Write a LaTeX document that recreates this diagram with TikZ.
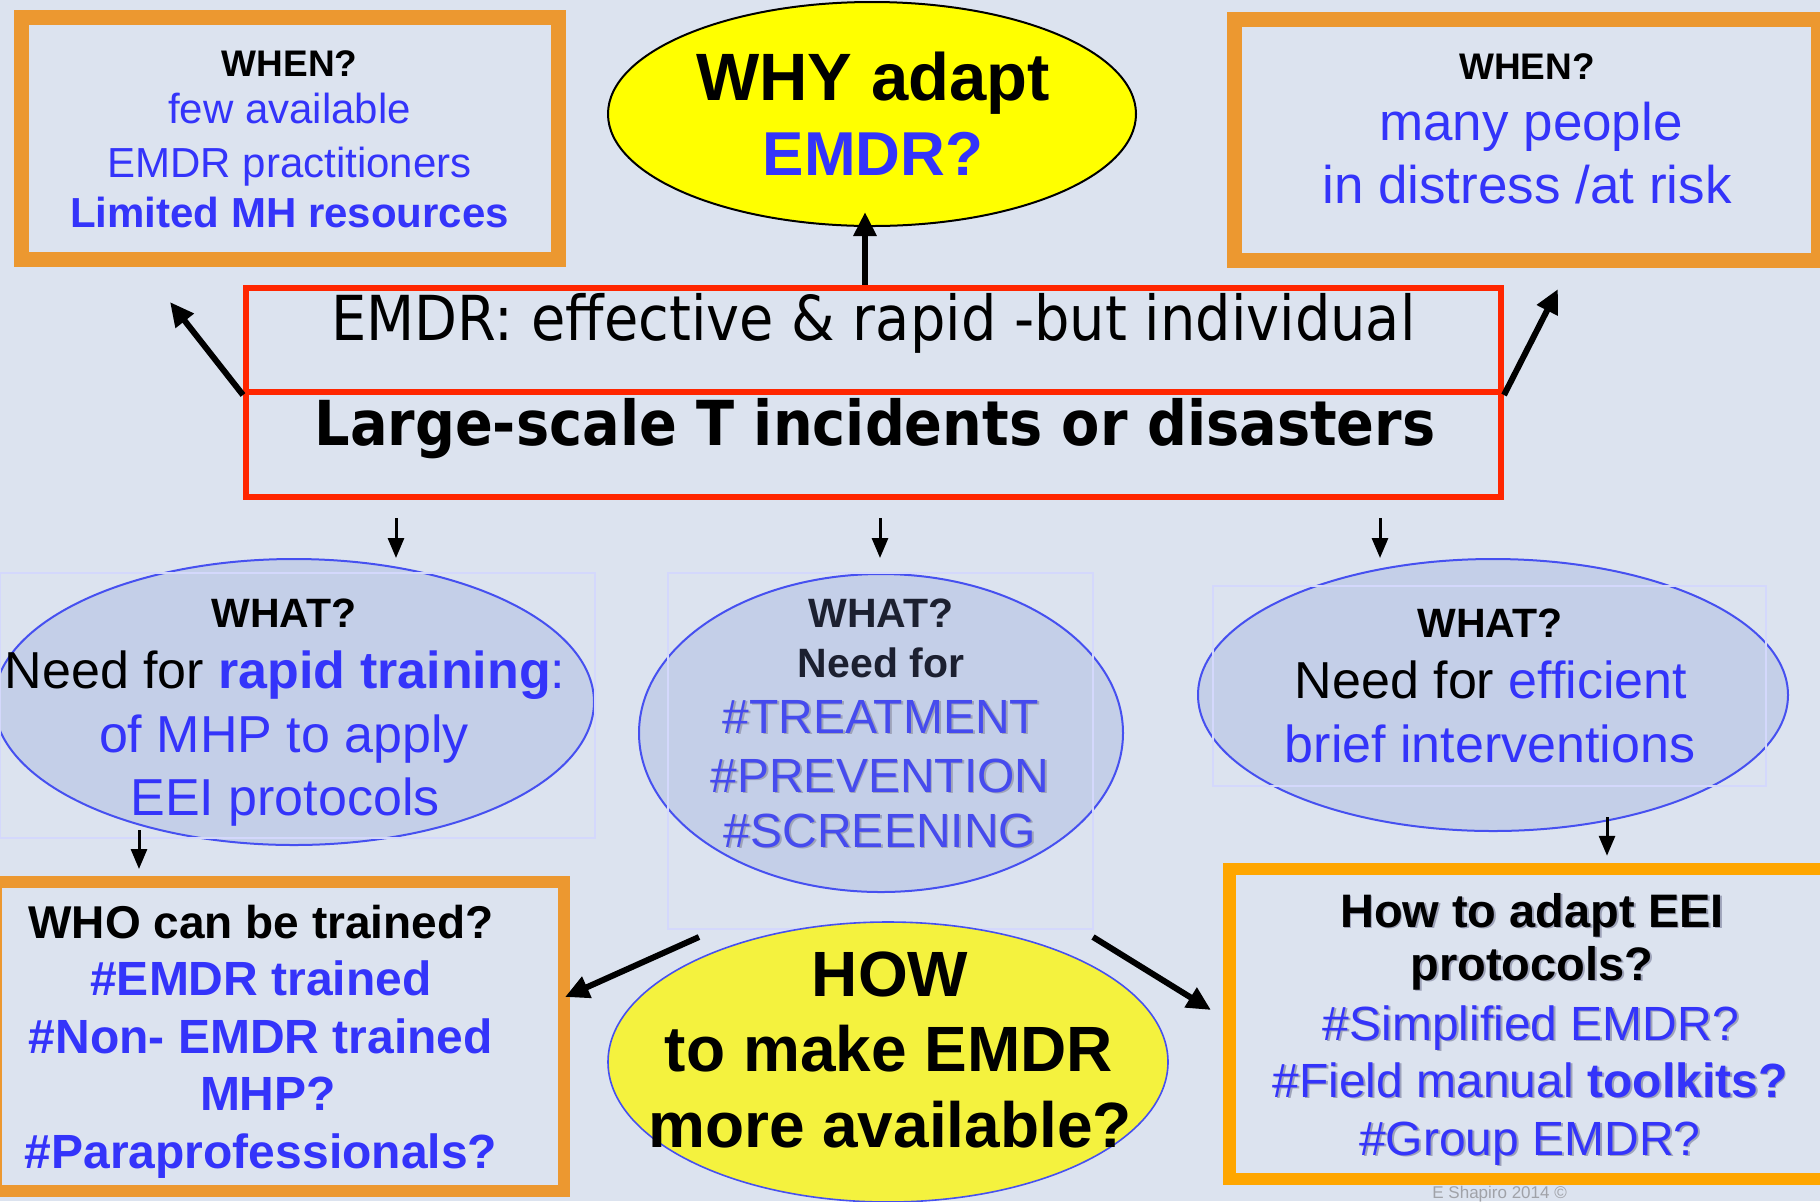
\documentclass[tikz,border=0pt]{standalone}
\usepackage{fontspec}
\setmainfont{Liberation Sans}
\newfontfamily\verd[FakeStretch=0.9]{DejaVu Sans}
\usetikzlibrary{shapes.geometric,arrows.meta}
\definecolor{bgc}{RGB}{220,227,239}
\definecolor{orA}{RGB}{236,152,48}
\definecolor{orB}{RGB}{255,166,0}
\definecolor{redb}{RGB}{255,38,0}
\definecolor{blT}{RGB}{52,52,250}
\definecolor{blT2}{RGB}{70,75,238}
\definecolor{ellf}{RGB}{196,207,232}
\definecolor{ellb}{RGB}{70,80,240}
\definecolor{yelA}{RGB}{255,255,0}
\definecolor{yelB}{RGB}{244,242,62}
\definecolor{faintc}{RGB}{212,216,252}
\definecolor{darkt}{RGB}{28,32,48}
\definecolor{shc}{RGB}{158,163,185}
\definecolor{footc}{RGB}{160,162,168}
\newcommand\fsz[1]{\fontsize{#1pt}{#1pt}\selectfont}
\newcommand\shd[1]{\makebox[0pt][l]{\kern0.9pt\raisebox{-0.9pt}{\textcolor{shc}{#1}}}#1}
\begin{document}
\begin{tikzpicture}[x=0.5pt,y=-0.5pt,
  obox/.style={draw=orA, line width=7.5pt, inner sep=0pt, fill=none},
  rbox/.style={draw=redb, line width=3pt, inner sep=0pt},
  ell/.style={ellipse, inner sep=0pt},
  wellipse/.style={ellipse, inner sep=0pt, fill=ellf, draw=ellb, line width=1pt},
  faint/.style={draw=faintc, line width=1pt},
  tx/.style={anchor=base, inner sep=0pt},
  barr/.style={line width=3pt, -{Triangle[length=12pt,width=11pt]}},
  sarr/.style={line width=1.5pt, -{Triangle[length=10pt,width=8pt]}}
]
\fill[bgc] (0,0) rectangle (1820,1201);
\useasboundingbox (0,0) rectangle (1820,1201);

% shapes
\node[obox, minimum width=268.5pt, minimum height=121pt] (when1) at (289.5,138) {};
\node[obox, minimum width=292pt, minimum height=120.5pt] (when2) at (1526.5,139.5) {};
\node[ell, fill=yelA, draw=black, line width=1pt, minimum width=264pt, minimum height=112pt] (why) at (872,114) {};
\node[rbox, minimum width=627.5pt, minimum height=52pt] (red1) at (873.5,340) {};
\node[rbox, minimum width=627.5pt, minimum height=52.5pt] (red2) at (873.5,444.5) {};
\node[wellipse, minimum width=300pt, minimum height=143pt] (what1) at (294,702) {};
\node[wellipse, minimum width=242pt, minimum height=159pt] (what2) at (881,733) {};
\node[wellipse, minimum width=295pt, minimum height=136pt] (what3) at (1493,695) {};
\draw[faint] (0,573) rectangle (595,838);
\draw[faint] (668,573) rectangle (1093,929);
\draw[faint] (1213,586) rectangle (1766,786);
\node[obox, line width=6pt, minimum width=283.75pt, minimum height=154.5pt] (who) at (279.75,1036.5) {};
\node[ell, fill=yelB, draw=ellb, line width=0.8pt, minimum width=280pt, minimum height=140pt] (how) at (888,1062) {};
\node[obox, draw=orB, line width=6.25pt, minimum width=298.25pt, minimum height=155pt] (adapt) at (1527.75,1024) {};

% texts: top-left WHEN
\node[tx, font=\fsz{18.5}\bfseries] (w1a) at (289.5,76) {WHEN?};
\node[tx, font=\fsz{21}, text=blT] (w1b) at (289.5,123) {few available};
\node[tx, font=\fsz{21}, text=blT] (w1c) at (289.5,177) {EMDR practitioners};
\node[tx, font=\fsz{21}\bfseries, text=blT] (w1d) at (289.5,227) {Limited MH resources};
% top-right WHEN
\node[tx, font=\fsz{18.5}\bfseries] (w2a) at (1527,79) {WHEN?};
\node[tx, font=\fsz{26.5}, text=blT] (w2b) at (1531,140) {many people};
\node[tx, font=\fsz{26.5}, text=blT] (w2c) at (1527,203) {in distress /at risk};
% WHY
\node[tx, font=\fsz{33.5}\bfseries] (y1) at (873,100) {WHY adapt};
\node[tx, font=\fsz{31}\bfseries, text=blT] (y2) at (873,175) {EMDR?};
% red boxes
\node[tx, font=\verd\fsz{31}] (r1) at (873.5,340) {EMDR: effective \& rapid -but individual};
\node[tx, font=\verd\bfseries\fsz{31}] (r2) at (875,445) {Large-scale T incidents or disasters};
% WHAT 1
\node[tx, font=\fsz{20.5}\bfseries] (a1) at (284,627) {WHAT?};
\node[tx, font=\fsz{26}] (a2) at (285,688) {Need for {\color{blT}\textbf{rapid training}:}};
\node[tx, font=\fsz{26}, text=blT] (a3) at (284,752) {of MHP to apply};
\node[tx, font=\fsz{26}, text=blT] (a4) at (285,815) {EEI protocols};
% WHAT 2
\node[tx, font=\fsz{20.5}\bfseries, text=darkt] (b1) at (881,627) {WHAT?};
\node[tx, font=\fsz{20.5}\bfseries, text=darkt] (b2) at (881,677) {Need for};
\node[tx, font=\fsz{24}, text=blT2] (b3) at (881,733) {\shd{\#TREATMENT}};
\node[tx, font=\fsz{24}, text=blT2] (b4) at (880,792) {\shd{\#PREVENTION}};
\node[tx, font=\fsz{24}, text=blT2] (b5) at (880,847) {\shd{\#SCREENING}};
% WHAT 3
\node[tx, font=\fsz{20.5}\bfseries] (c1) at (1490,637) {WHAT?};
\node[tx, font=\fsz{26}] (c2) at (1491,698) {Need for \textcolor{blT}{efficient}};
\node[tx, font=\fsz{26}, text=blT] (c3) at (1490,762) {brief interventions};
% WHO
\node[tx, font=\fsz{23}\bfseries] (d1t) at (261,938) {WHO can be trained?};
\node[tx, font=\fsz{24}\bfseries, text=blT] (d2t) at (261,995) {\#EMDR trained};
\node[tx, font=\fsz{24}\bfseries, text=blT] (d3t) at (261,1053) {\#Non- EMDR trained};
\node[tx, font=\fsz{24}\bfseries, text=blT] (d4t) at (268,1110) {MHP?};
\node[tx, font=\fsz{24}\bfseries, text=blT] (d5t) at (261,1168) {\#Paraprofessionals?};
% HOW
\node[tx, font=\fsz{32}\bfseries] (h1t) at (890,996) {HOW};
\node[tx, font=\fsz{32}\bfseries] (h2t) at (889,1071) {to make EMDR};
\node[tx, font=\fsz{32}\bfseries] (h3t) at (890,1147) {more available?};
% ADAPT
\node[tx, font=\fsz{23.5}\bfseries] (p1) at (1532,927) {\shd{How to adapt EEI}};
\node[tx, font=\fsz{23.5}\bfseries] (p2) at (1532,980) {\shd{protocols?}};
\node[tx, font=\fsz{24}, text=blT] (p3) at (1531,1040) {\shd{\#Simplified EMDR?}};
\node[tx, font=\fsz{24}, text=blT] (p4) at (1530,1097) {\shd{\#Field manual \textbf{toolkits?}}};
\node[tx, font=\fsz{24}, text=blT] (p5) at (1530,1155) {\shd{\#Group EMDR?}};
% footer
\node[anchor=base west, inner sep=0pt, font=\fsz{8.5}, text=footc] (foot) at (1432,1198) {E Shapiro 2014 ©};

% connectors
\coordinate (upTip) at (865,212);
\draw[barr] (red1.north -| upTip) -- (upTip);
\coordinate (ltip) at (170,302);
\draw[barr] (red1.south west) -- (ltip);
\coordinate (rtip) at (1558,289);
\draw[barr] (red1.south east) -- (rtip);
\coordinate (dn1) at (396,558);
\coordinate (dn2) at (880,558);
\coordinate (dn3) at (1380,558);
\draw[sarr, shorten <=9pt] (red2.south -| dn1) -- (dn1);
\draw[sarr, shorten <=9pt] (red2.south -| dn2) -- (dn2);
\draw[sarr, shorten <=9pt] (red2.south -| dn3) -- (dn3);
\coordinate (e1) at (139,830);
\draw[sarr, shorten >=3.5pt] (e1) -- (e1 |- who.north);
\coordinate (e3) at (1607,817);
\draw[sarr, shorten >=3.5pt] (e3) -- (e3 |- adapt.north);
\coordinate (hw1) at (699,937);
\coordinate (hw1t) at (565,997);
\draw[barr] (hw1) -- (hw1t);
\coordinate (hw2) at (1093,937);
\coordinate (hw2t) at (1211,1010);
\draw[barr] (hw2) -- (hw2t);
\end{tikzpicture}
\end{document}
